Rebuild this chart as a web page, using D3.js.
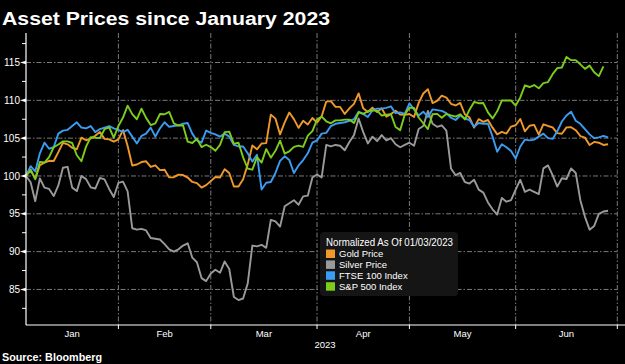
<!DOCTYPE html>
<html><head><meta charset="utf-8">
<script src="https://cdn.jsdelivr.net/npm/d3@7"></script>
<style>html,body{margin:0;padding:0;background:#000;}svg{display:block;}</style>
</head><body><svg id="chart" width="625" height="364"></svg>
<script>
// ---------- data ----------
const titleText = "Asset Prices since January 2023";
const sourceText = "Source: Bloomberg";
const legendTitle = "Normalized As Of 01/03/2023";
const seriesNames = ["Gold Price", "Silver Price", "FTSE 100 Index", "S&P 500 Index"];
const seriesColors = ["#f0992b", "#9a9a9a", "#3a9cf2", "#7ccc1c"];
const yTicks = [85, 90, 95, 100, 105, 110, 115];
const yMinorTicks = [82.5, 87.5, 92.5, 97.5, 102.5, 107.5, 112.5, 117.5];
const monthLabels = ["Jan", "Feb", "Mar", "Apr", "May", "Jun"];
const yearLabel = "2023";
const axisStart = "2023-01-03", axisEnd = "2023-06-30"; // weekday axis

const gold = [100.00,100.84,99.65,101.42,101.77,102.01,101.98,103.16,104.38,104.18,
103.73,103.53,105.07,104.72,104.98,105.31,105.80,104.90,104.85,104.55,
104.84,106.06,103.96,101.39,101.52,101.84,101.94,101.19,101.41,100.78,
100.83,99.81,99.84,100.18,100.12,99.79,99.21,99.05,98.47,98.79,
99.32,99.86,99.79,100.90,100.39,98.60,98.61,99.57,101.53,104.03,
103.52,104.29,104.34,108.11,107.58,105.49,107.08,108.39,107.52,106.36,
107.29,106.81,107.66,107.06,107.89,109.83,109.89,109.13,109.13,108.20,
108.93,109.54,110.92,108.95,108.46,109.04,108.44,108.95,107.84,108.18,
108.62,108.13,108.08,108.19,107.80,109.66,110.90,111.47,109.64,109.92,
110.61,110.37,109.54,109.32,109.66,108.16,107.73,106.40,107.51,107.16,
107.40,106.39,105.50,105.82,105.61,106.53,106.70,107.53,105.90,106.64,
106.75,105.47,106.83,106.61,106.42,105.66,105.59,106.43,106.45,106.05,
105.28,105.07,104.10,104.50,104.40,104.10,104.20];

const silver = [100.0,99.17,96.67,99.67,98.46,98.29,97.34,98.75,101.08,101.21,
98.46,98.00,100.0,99.58,98.50,98.34,99.75,99.54,98.29,97.21,
99.08,99.25,97.96,93.09,92.9,93.0,92.8,91.8,91.7,91.6,
91.0,90.3,90.0,90.3,90.8,91.1,89.2,88.6,86.5,86.1,
87.1,87.6,87.2,88.7,87.7,84.0,83.6,83.8,85.8,90.8,
90.7,90.9,90.5,94.2,94.0,93.3,96.0,96.4,96.8,96.2,
97.3,97.4,99.8,100.2,99.8,104.1,103.9,104.1,104.0,103.4,
104.5,105.4,107.6,105.8,104.3,105.2,104.6,105.4,104.7,105.0,
104.2,103.8,104.1,104.4,104.0,106.2,106.6,108.6,106.9,106.5,
106.7,106.0,101.0,100.1,100.4,99.2,99.0,99.5,98.2,97.8,
96.5,95.6,94.9,97.1,96.6,96.8,98.2,99.5,97.9,98.2,
97.9,97.6,101.0,101.4,100.1,98.6,99.7,99.6,101.0,100.4,
96.8,94.6,92.9,93.4,95.0,95.3,95.4];

const ftse = [100.0,101.3,100.6,103.0,104.4,103.6,103.8,105.6,106.0,106.1,
106.6,107.1,106.4,106.3,106.6,105.8,106.2,106.4,106.6,106.3,
106.1,105.8,106.1,105.2,104.3,105.3,105.6,106.4,105.2,106.3,
107.1,106.5,106.6,106.7,106.9,107.0,105.6,104.7,104.4,106.0,
105.7,105.5,105.2,105.6,105.2,104.1,103.9,103.9,103.0,101.9,
102.8,98.2,99.1,99.2,100.4,102.0,102.6,102.1,100.4,101.4,
102.1,103.0,104.4,104.7,105.6,105.7,106.6,106.9,107.0,107.1,
107.3,107.5,108.5,108.2,107.8,108.7,108.9,108.9,109.0,109.2,
108.3,108.4,108.2,109.6,108.8,108.0,108.5,107.8,108.8,108.7,
108.6,108.3,107.7,107.4,108.0,107.6,107.4,106.5,107.0,106.9,
106.9,105.2,103.2,104.2,103.8,103.3,102.3,103.9,104.8,104.7,
104.8,105.2,105.6,105.0,104.9,105.9,107.2,108.0,108.5,107.3,
106.9,106.2,105.5,105.0,105.1,105.3,105.1];

const spx = [100.00,100.75,99.58,101.86,101.78,102.49,103.80,104.16,104.57,104.57,
104.36,102.74,101.95,103.88,105.12,105.04,105.02,106.18,106.44,105.06,
106.60,107.72,109.30,108.17,107.50,108.89,107.68,106.73,106.96,108.19,
108.16,108.46,106.96,106.67,106.67,104.53,104.36,104.92,103.82,104.13,
103.82,103.33,104.11,105.79,105.86,104.24,104.39,102.46,100.98,100.83,
102.49,101.77,103.56,102.42,103.33,104.67,102.95,103.26,103.84,104.01,
103.85,105.33,105.93,107.46,107.85,107.23,106.96,107.35,107.35,107.45,
107.45,107.00,108.42,108.20,108.56,108.65,108.64,107.99,108.09,108.18,
106.47,106.06,108.14,109.03,108.99,107.73,106.97,106.20,108.16,108.21,
107.71,108.20,108.01,107.84,108.16,107.47,108.75,109.78,109.62,109.64,
108.41,107.61,108.55,109.97,109.97,109.97,109.30,110.38,111.98,111.76,
112.02,111.59,112.28,112.41,113.46,114.25,114.34,115.73,115.31,115.31,
114.76,114.16,114.59,113.71,113.20,114.49];

const seriesValues = [gold, silver, ftse, spx];

// ---------- layout ----------
const W = 625, H = 364;
const M = {left: 26, right: 7.7, top: 33, bottom: 39};
const svg = d3.select("#chart");
svg.append("rect").attr("width", W).attr("height", H).attr("fill", "#000");

const days = d3.utcDay.range(new Date(axisStart + "T00:00Z"), d3.utcDay.offset(new Date(axisEnd + "T00:00Z"), 1))
  .filter(d => d.getUTCDay() !== 0 && d.getUTCDay() !== 6);

const x = d3.scaleLinear().domain([0, days.length - 1]).range([M.left, W - M.right]);
const y = d3.scaleLinear().domain([80.3, 118.9]).range([H - M.bottom, M.top]);

// month-end boundaries (last weekday of each month)
const monthEnds = [];
days.forEach((d, i) => {
  if (i === days.length - 1 || days[i + 1].getUTCMonth() !== d.getUTCMonth()) monthEnds.push(i);
});

const font = "'Liberation Sans', Arial, sans-serif";
const gridColor = "#7a7a7a";
const dash = "5,2,1.5,2";

// horizontal gridlines
svg.append("g").selectAll("line").data(yTicks).join("line")
  .attr("x1", x.range()[0]).attr("x2", x.range()[1])
  .attr("y1", d => y(d)).attr("y2", d => y(d))
  .attr("stroke", gridColor).attr("stroke-width", 1).attr("stroke-dasharray", dash);

// vertical gridlines
svg.append("g").selectAll("line").data(monthEnds).join("line")
  .attr("x1", d => x(d)).attr("x2", d => x(d))
  .attr("y1", y.range()[1]).attr("y2", y.range()[0])
  .attr("stroke", gridColor).attr("stroke-width", 1).attr("stroke-dasharray", dash);

// legend background
const lg = {x: 320, y: 232, w: 138, h: 64};
svg.append("rect").attr("x", lg.x).attr("y", lg.y).attr("width", lg.w).attr("height", lg.h)
  .attr("rx", 4).attr("fill", "#151515");

// series lines
const line = d3.line().x((d, i) => x(i)).y(d => y(d));
svg.append("g").selectAll("path").data(seriesValues).join("path")
  .attr("d", d => line(d))
  .attr("fill", "none")
  .attr("stroke", (d, i) => seriesColors[i])
  .attr("stroke-width", 1.9)
  .attr("stroke-linejoin", "round");

// y axis
const gy = svg.append("g");
gy.append("line").attr("x1", M.left).attr("x2", M.left).attr("y1", M.top).attr("y2", H - M.bottom)
  .attr("stroke", "#fff").attr("stroke-width", 1.2);
gy.selectAll("path.maj").data(yTicks).join("path").attr("class", "maj")
  .attr("d", d => `M${M.left},${y(d) - 1.8}L${M.left - 6},${y(d)}L${M.left},${y(d) + 1.8}Z`)
  .attr("fill", "#fff");
gy.selectAll("line.min").data(yMinorTicks).join("line").attr("class", "min")
  .attr("x1", M.left - 4).attr("x2", M.left).attr("y1", d => y(d)).attr("y2", d => y(d))
  .attr("stroke", "#fff").attr("stroke-width", 1);
gy.selectAll("text").data(yTicks).join("text")
  .attr("x", M.left - 6).attr("y", d => y(d) + 3.6)
  .attr("text-anchor", "end").attr("fill", "#fff")
  .attr("font-family", font).attr("font-size", 10).text(d => d);

// x axis
const gx = svg.append("g");
gx.append("line").attr("x1", M.left).attr("x2", W).attr("y1", H - M.bottom).attr("y2", H - M.bottom)
  .attr("stroke", "#fff").attr("stroke-width", 1.2);
gx.selectAll("line.t").data(monthEnds).join("line").attr("class", "t")
  .attr("x1", d => x(d)).attr("x2", d => x(d)).attr("y1", H - M.bottom).attr("y2", H - M.bottom + 4)
  .attr("stroke", "#fff").attr("stroke-width", 1);
const bounds = [0].concat(monthEnds);
gx.selectAll("text.m").data(monthLabels).join("text").attr("class", "m")
  .attr("x", (d, i) => (x(bounds[i]) + x(bounds[i + 1])) / 2)
  .attr("y", H - M.bottom + 12)
  .attr("text-anchor", "middle").attr("fill", "#fff")
  .attr("font-family", font).attr("font-size", 9.5).text(d => d);
gx.append("text").attr("x", 325).attr("y", H - M.bottom + 22.5)
  .attr("text-anchor", "middle").attr("fill", "#fff")
  .attr("font-family", font).attr("font-size", 9.5).text(yearLabel);

// title & source
svg.append("text").attr("x", 2).attr("y", 25).attr("fill", "#fff")
  .attr("font-family", font).attr("font-weight", "bold").attr("font-size", 18)
  .attr("textLength", 328).attr("lengthAdjust", "spacingAndGlyphs").text(titleText);
svg.append("text").attr("x", 2).attr("y", 361).attr("fill", "#fff")
  .attr("font-family", font).attr("font-weight", "bold").attr("font-size", 10.5)
  .attr("textLength", 100).attr("lengthAdjust", "spacingAndGlyphs").text(sourceText);

// legend content
svg.append("text").attr("x", lg.x + 6).attr("y", lg.y + 14).attr("fill", "#fff")
  .attr("font-family", font).attr("font-size", 10)
  .attr("textLength", 127).attr("lengthAdjust", "spacingAndGlyphs").text(legendTitle);
const items = svg.append("g").selectAll("g").data(seriesNames).join("g")
  .attr("transform", (d, i) => `translate(${lg.x + 6},${lg.y + 25 + i * 10.9})`);
items.append("rect").attr("x", 0).attr("y", -7.5).attr("width", 9).attr("height", 8.5)
  .attr("fill", (d, i) => seriesColors[i]);
items.append("text").attr("x", 13).attr("y", 0).attr("fill", "#fff")
  .attr("font-family", font).attr("font-size", 9.5).text(d => d);
</script></body></html>
